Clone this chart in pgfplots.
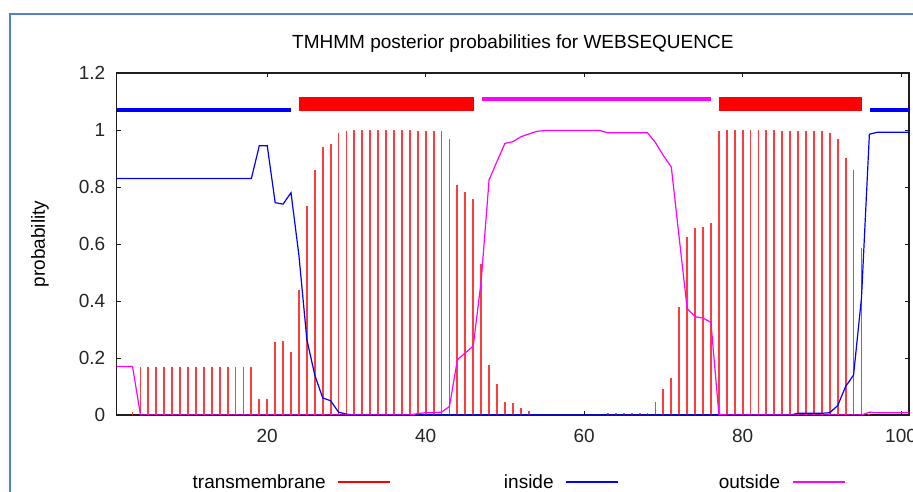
\documentclass[border=0pt]{standalone}
\usepackage{fontspec}
\setmainfont{Liberation Sans}
\usepackage{pgfplots}
\usepackage{pgfplotstable}
\pgfplotsset{compat=1.18}
\definecolor{frameblue}{RGB}{84,130,200}
\definecolor{axgray}{RGB}{30,30,30}
\definecolor{tmred}{RGB}{255,0,0}
\definecolor{combred}{RGB}{255,60,60}
\definecolor{inblue}{RGB}{0,0,255}
\definecolor{outmag}{RGB}{255,0,255}

% position, transmembrane, inside, outside
\pgfplotstableread{
x tm in out
1 0 0.83 0.17
2 0 0.83 0.17
3 0.01 0.83 0.17
4 0.17 0.83 0
5 0.17 0.83 0
6 0.17 0.83 0
7 0.17 0.83 0
8 0.17 0.83 0
9 0.17 0.83 0
10 0.17 0.83 0
11 0.17 0.83 0
12 0.17 0.83 0
13 0.17 0.83 0
14 0.17 0.83 0
15 0.17 0.83 0
16 0.17 0.83 0
17 0.17 0.83 0
18 0.17 0.83 0
19 0.055 0.945 0
20 0.055 0.945 0
21 0.255 0.745 0
22 0.26 0.74 0
23 0.22 0.78 0
24 0.44 0.56 0
25 0.735 0.265 0
26 0.86 0.14 0
27 0.94 0.06 0
28 0.95 0.05 0
29 0.99 0.01 0
30 0.997 0.003 0
31 1.0 0 0
32 1.0 0 0
33 1.0 0 0
34 1.0 0 0
35 1.0 0 0
36 1.0 0 0
37 1.0 0 0
38 1.0 0 0
39 0.998 0 0.005
40 0.997 0 0.008
41 0.997 0 0.008
42 0.995 0 0.01
43 0.97 0 0.03
44 0.806 0 0.194
45 0.782 0 0.218
46 0.758 0 0.242
47 0.53 0 0.47
48 0.175 0 0.825
49 0.11 0 0.89
50 0.047 0 0.953
51 0.041 0 0.959
52 0.024 0 0.976
53 0.014 0 0.986
54 0 0 0.995
55 0 0 0.998
56 0 0 0.998
57 0 0 0.998
58 0 0 0.998
59 0 0 0.998
60 0 0 0.998
61 0 0 0.998
62 0 0 0.998
63 0.008 0 0.99
64 0.008 0 0.99
65 0.008 0 0.99
66 0.008 0 0.99
67 0.008 0 0.99
68 0.008 0 0.99
69 0.044 0 0.956
70 0.09 0 0.91
71 0.13 0 0.87
72 0.38 0 0.62
73 0.626 0 0.374
74 0.655 0 0.345
75 0.66 0 0.34
76 0.675 0 0.325
77 0.997 0 0.003
78 1.0 0 0
79 1.0 0 0
80 1.0 0 0
81 1.0 0 0
82 1.0 0 0
83 1.0 0 0
84 1.0 0 0
85 0.995 0 0
86 0.995 0 0
87 0.995 0.006 0
88 0.995 0.006 0
89 0.995 0.006 0
90 0.995 0.006 0
91 0.99 0.008 0
92 0.967 0.033 0
93 0.90 0.10 0
94 0.86 0.14 0
95 0.587 0.41 0
96 0.005 0.985 0.01
97 0 0.992 0.008
98 0 0.992 0.008
99 0 0.992 0.008
100 0 0.992 0.008
101 0 0.992 0.008
}\probs

\begin{document}
\begin{tikzpicture}[x=1pt,y=1pt]
\useasboundingbox (0,0) rectangle (913,492);
\fill[white] (0,0) rectangle (913,492);
\draw[frameblue, line width=1.8pt] (10.2,0) -- (10.2,477.8) -- (913,477.8);
\begin{axis}[
  at={(116.7pt,77pt)}, anchor=south west,
  width=792.3pt, height=342pt, scale only axis,
  xmin=1, xmax=101, ymin=0, ymax=1.2,
  xtick={20,40,60,80,100},
  ytick={0,0.2,0.4,0.6,0.8,1,1.2},
  tick align=inside, tick pos=both,
  major tick length=4pt,
  every tick/.style={axgray, line width=0.9pt},
  axis line style={axgray, line width=1.3pt},
  /pgf/number format/assume math mode=true,
  tick label style={font=\fontsize{19}{22}\selectfont, text=black!85},
  yticklabel style={anchor=east, xshift=-8pt},
  xticklabel style={anchor=center, yshift=-21pt},
  title={TMHMM posterior probabilities for WEBSEQUENCE},
  title style={font=\fontsize{19}{22}\selectfont, at={(axis description cs:0.5,1)}, anchor=center, yshift=23pt},
  ylabel={probability},
  ylabel style={font=\fontsize{19}{22}\selectfont, at={(axis description cs:-0.0968,0.5)}, anchor=center},
  legend columns=3,
  legend plot pos=right,
  legend image code/.code={\draw[line width=1.2pt,#1] (0pt,0pt) -- (52pt,0pt);},
  legend style={draw=none, fill=none, font=\fontsize{19}{22}\selectfont,
    at={(axis description cs:0.5065,-0.196)}, anchor=center,
    /tikz/every odd column/.append style={column sep=10pt},
    /tikz/every even column/.append style={column sep=98pt}},
  no markers,
]
\addlegendimage{tmred}
\addlegendimage{inblue}
\addlegendimage{outmag}
\addplot[ycomb, combred, line width=1.8pt, forget plot] table[x=x, y=tm] {\probs};
\addplot[inblue, line width=1.2pt, forget plot] table[x=x, y=in] {\probs};
\addplot[outmag, line width=1.2pt, forget plot] table[x=x, y=out] {\probs};
\addplot[inblue, line width=4pt, forget plot] coordinates {(1,1.07) (23,1.07)};
\addplot[tmred, line width=14pt, forget plot] coordinates {(24.07,1.09) (46.06,1.09)};
\addplot[outmag, line width=4pt, forget plot] coordinates {(47.1,1.11) (76,1.11)};
\addplot[tmred, line width=14pt, forget plot] coordinates {(77.08,1.09) (95.1,1.09)};
\addplot[inblue, line width=4pt, forget plot] coordinates {(96.08,1.07) (101,1.07)};
\legend{transmembrane, \hspace*{13pt}inside, outside}
\end{axis}
\end{tikzpicture}
\end{document}
